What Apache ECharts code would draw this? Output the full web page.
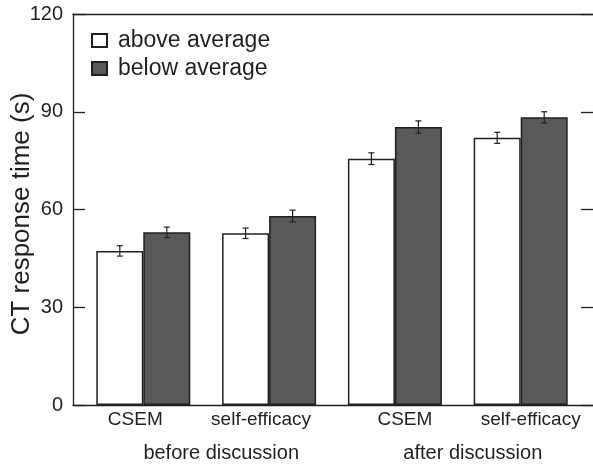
<!DOCTYPE html>
<html>
<head>
<meta charset="utf-8">
<script src="https://cdn.jsdelivr.net/npm/echarts@6/dist/echarts.min.js"></script>
<style>
html,body{margin:0;padding:0;background:#fff;}
#chart{width:593px;height:465px;}
</style>
</head>
<body>
<div id="chart"></div>
<script>
// ---- data ----
var categories = ['CSEM', 'self-efficacy', 'CSEM', 'self-efficacy'];
var groups = ['before discussion', 'after discussion'];
var seriesNames = ['above average', 'below average'];
var aboveValues = [47.3, 52.7, 75.6, 82.0];
var belowValues = [53.0, 58.0, 85.3, 88.3];
var aboveErr = [1.6, 1.6, 1.8, 1.7];
var belowErr = [1.6, 1.8, 1.9, 1.7];
var yTicks = [0, 30, 60, 90, 120];

var INK = '#231f20';
var DARK = '#58595b';
var FONT = 'Liberation Sans, Arial, Helvetica, sans-serif';
var BAR_W = 47;

function errData(vals, errs) {
  return vals.map(function (v, i) { return [i, v, errs[i]]; });
}

function errRender(side) {
  return function (params, api) {
    var ci = api.value(0), v = api.value(1), e = api.value(2);
    var c = api.coord([ci, v]);
    var x = c[0] + side * BAR_W / 2;
    var top = api.coord([ci, v + e])[1];
    var bot = api.coord([ci, v - e])[1];
    var cap = 3;
    var st = { stroke: INK, lineWidth: 1.2 };
    return {
      type: 'group',
      children: [
        { type: 'line', shape: { x1: x, y1: top, x2: x, y2: bot }, style: st },
        { type: 'line', shape: { x1: x - cap, y1: top, x2: x + cap, y2: top }, style: st },
        { type: 'line', shape: { x1: x - cap, y1: bot, x2: x + cap, y2: bot }, style: st }
      ]
    };
  };
}

var chart = echarts.init(document.getElementById('chart'), null, { renderer: 'canvas' });
var yMin = yTicks[0], yMax = yTicks[yTicks.length - 1], yStep = yTicks[1] - yTicks[0];
var lineStyle = { color: INK, width: 1.3 };

var option = {
  backgroundColor: '#fff',
  animation: false,
  textStyle: { fontFamily: FONT, color: INK },
  grid: [
    { left: 73, right: 0, top: 14, bottom: 60, containLabel: false, outerBoundsMode: 'none' },
    { left: 80.4, right: 9.4, top: 14, bottom: 60, containLabel: false, outerBoundsMode: 'none' }
  ],
  legend: {
    left: 91, top: 29, orient: 'vertical',
    itemWidth: 15, itemHeight: 13, itemGap: 5,
    padding: 0, icon: 'rect',
    data: seriesNames,
    textStyle: { fontFamily: FONT, fontSize: 23, lineHeight: 22, color: INK, padding: [0, 0, 0, 6] }
  },
  xAxis: [
    { gridIndex: 0, type: 'value', min: 0, max: 1, position: 'bottom',
      axisLine: { show: true, onZero: false, lineStyle: lineStyle },
      axisTick: { show: false }, axisLabel: { show: false }, splitLine: { show: false } },
    { gridIndex: 0, type: 'value', min: 0, max: 1, position: 'top',
      axisLine: { show: true, onZero: false, lineStyle: lineStyle },
      axisTick: { show: false }, axisLabel: { show: false }, splitLine: { show: false } },
    { gridIndex: 1, type: 'category', data: categories, position: 'bottom',
      axisLine: { show: false, onZero: false }, axisTick: { show: false },
      axisLabel: {
        fontFamily: FONT, fontSize: 19, color: INK, margin: 5, interval: 0,
        formatter: function (v, i) { return (i < 2 ? '{l|' : '{r|') + v + '}'; },
        rich: {
          l: { fontFamily: FONT, fontSize: 19, color: INK, padding: [0, 16, 0, 0] },
          r: { fontFamily: FONT, fontSize: 19, color: INK, padding: [0, 0, 0, 20] }
        }
      } },
    { gridIndex: 1, type: 'category', data: groups, position: 'bottom',
      axisLine: { show: false, onZero: false }, axisTick: { show: false },
      axisLabel: { fontFamily: FONT, fontSize: 20, color: INK, margin: 38, interval: 0,
        padding: [0, 0, 0, 30] } }
  ],
  yAxis: [
    { gridIndex: 0, type: 'value', min: yMin, max: yMax, interval: yStep, position: 'left',
      name: 'CT response time (s)', nameLocation: 'middle', nameRotate: 90, nameGap: 38,
      nameMoveOverlap: false,
      nameTextStyle: { fontFamily: FONT, fontSize: 26, color: INK, padding: [0, 9, 0, 0] },
      axisLine: { show: true, onZero: false, lineStyle: lineStyle },
      axisTick: { show: true, inside: true, length: 12, lineStyle: lineStyle },
      axisLabel: { fontFamily: FONT, fontSize: 20, color: INK, margin: 10 },
      splitLine: { show: false } },
    { gridIndex: 0, type: 'value', min: yMin, max: yMax, interval: yStep, position: 'right',
      axisLine: { show: false, onZero: false },
      axisTick: { show: true, inside: true, length: 12, lineStyle: lineStyle },
      axisLabel: { show: false }, splitLine: { show: false } },
    { gridIndex: 1, type: 'value', min: yMin, max: yMax, interval: yStep, show: false,
      splitLine: { show: false } }
  ],
  series: [
    { name: seriesNames[0], type: 'bar', xAxisIndex: 2, yAxisIndex: 2,
      data: aboveValues, barWidth: BAR_W, barGap: '0%',
      itemStyle: { color: '#ffffff', borderColor: INK, borderWidth: 1.5 } },
    { name: seriesNames[1], type: 'bar', xAxisIndex: 2, yAxisIndex: 2,
      data: belowValues, barWidth: BAR_W, barGap: '0%',
      itemStyle: { color: DARK, borderColor: INK, borderWidth: 1.5 } },
    { type: 'custom', xAxisIndex: 2, yAxisIndex: 2, z: 10,
      data: errData(aboveValues, aboveErr), renderItem: errRender(-1), silent: true },
    { type: 'custom', xAxisIndex: 2, yAxisIndex: 2, z: 10,
      data: errData(belowValues, belowErr), renderItem: errRender(1), silent: true }
  ]
};
chart.setOption(option);
</script>
</body>
</html>
